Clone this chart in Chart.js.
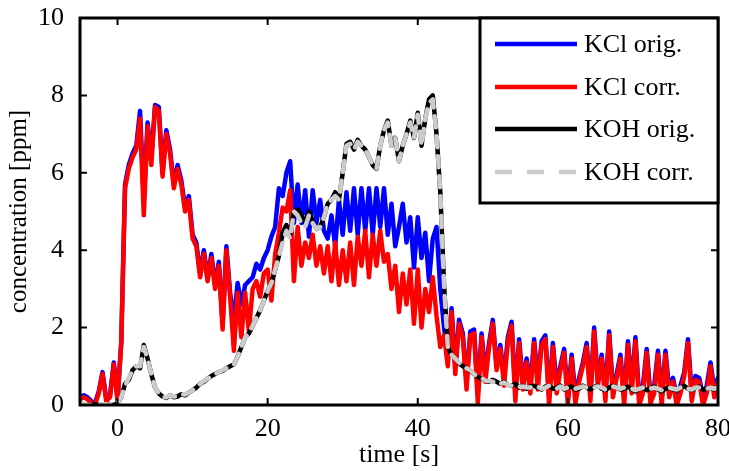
<!DOCTYPE html>
<html>
<head>
<meta charset="utf-8">
<script src="https://cdn.jsdelivr.net/npm/chart.js@4.4.0/dist/chart.umd.min.js"></script>
<style>
  html, body { margin: 0; padding: 0; background: #fff; overflow: hidden; }
  #wrap { width: 729px; height: 471px; }
</style>
</head>
<body>
<div id="wrap"><canvas id="myChart"></canvas></div>
<script>
// time [s]
const times = [
  -5,-4.5,-4,-3.5,-3,-2.5,-2,-1.5,-1,-0.5,
  0,0.5,1,1.5,2,2.5,3,3.5,4,4.5,
  5,5.5,6,6.5,7,7.5,8,8.5,9,9.5,
  10,10.5,11,11.5,12,12.5,13,13.5,14,14.5,
  15,15.5,16,16.5,17,17.5,18,18.5,19,19.5,
  20,20.5,21,21.5,22,22.5,23,23.5,24,24.5,
  25,25.5,26,26.5,27,27.5,28,28.5,29,29.5,
  30,30.5,31,31.5,32,32.5,33,33.5,34,34.5,
  35,35.5,36,36.5,37,37.5,38,38.5,39,39.5,
  40,40.5,41,41.5,42,42.5,43,43.5,44,44.5,
  45,45.5,46,46.5,47,47.5,48,48.5,49,49.5,
  50,50.5,51,51.5,52,52.5,53,53.5,54,54.5,
  55,55.5,56,56.5,57,57.5,58,58.5,59,59.5,
  60,60.5,61,61.5,62,62.5,63,63.5,64,64.5,
  65,65.5,66,66.5,67,67.5,68,68.5,69,69.5,
  70,70.5,71,71.5,72,72.5,73,73.5,74,74.5,
  75,75.5,76,76.5,77,77.5,78,78.5,79,79.5,
  80
];

// KCl orig.
const kclOrig = [
  0.2,0.25,0.2,0.1,0.05,0.35,0.85,0.15,0.25,1.1,
  0.15,1.65,5.7,6.2,6.5,6.7,7.6,5.3,7.3,6.4,
  7.75,7.7,6.0,7.1,6.6,5.7,6.2,5.8,5.1,5.4,
  4.4,4.2,3.4,4.0,3.3,3.9,3.1,3.7,2.1,4.1,
  2.9,2.2,3.15,2.6,3.1,3.2,3.3,3.65,3.5,3.8,
  4.0,4.35,4.6,5.6,5.4,6.0,6.3,4.7,5.7,4.7,
  5.55,4.35,5.55,4.7,5.3,4.5,4.3,4.9,4.1,5.3,
  4.4,5.5,4.5,5.6,4.4,5.6,4.5,5.6,4.4,5.6,
  4.6,5.6,4.4,5.2,4.1,4.6,5.2,4.2,4.85,3.55,
  4.85,3.8,4.45,3.2,4.3,4.6,3.0,2.0,1.2,2.5,
  1.0,2.2,1.85,0.6,1.9,1.95,0.3,1.85,0.8,1.6,
  2.2,1.0,1.55,0.7,1.75,2.15,0.3,1.7,0.6,1.2,
  0.5,1.7,0.6,1.65,1.8,0.2,1.6,0.5,1.0,1.45,
  0.2,1.3,0.25,0.7,1.1,1.6,0.3,2.0,0.6,1.3,
  0.3,1.9,0.4,0.8,1.3,0.2,1.65,0.5,1.75,0.2,
  0.5,1.45,0.25,0.5,1.4,0.2,1.4,0.4,0.7,0.2,
  0.5,0.85,1.7,0.3,0.75,0.7,0.2,0.5,1.1,0.4,
  0.7
];

// KCl corr.
const kclCorr = [
  0.15,0.2,0.15,0.05,0.0,0.3,0.8,0.1,0.2,1.05,
  0.1,1.6,5.6,6.1,6.4,6.6,7.4,4.9,7.2,6.2,
  7.7,7.6,5.9,7.0,6.5,5.6,6.1,5.7,5.0,5.3,
  4.3,4.1,3.3,3.9,3.2,3.8,3.0,3.6,1.95,4.0,
  2.8,1.4,2.9,1.75,2.9,1.9,3.0,3.2,2.8,3.4,
  3.5,2.7,3.9,4.45,5.1,5.0,5.55,3.2,4.6,3.6,
  4.2,3.8,4.4,3.6,4.1,3.4,4.1,3.2,4.2,3.1,
  4.0,3.2,4.2,3.1,4.35,3.6,4.5,3.3,4.4,3.6,
  4.5,3.7,3.9,3.0,3.6,2.4,3.4,2.6,3.5,2.1,
  3.5,2.0,3.0,2.4,3.3,2.3,1.5,1.8,1.0,2.4,
  0.8,2.1,1.75,0.4,1.8,1.85,0.05,1.75,0.6,1.5,
  2.1,0.9,1.45,0.5,1.65,2.05,0.1,1.6,0.4,1.1,
  0.3,1.6,0.4,1.55,1.7,0.0,1.5,0.3,0.9,1.35,
  0.0,1.2,0.05,0.6,1.0,1.5,0.1,1.9,0.5,1.2,
  0.1,1.8,0.2,0.7,1.2,0.0,1.55,0.3,1.65,0.0,
  0.3,1.35,0.05,0.3,1.3,0.0,1.3,0.2,0.6,0.0,
  0.3,0.75,1.6,0.1,0.65,0.6,0.0,0.3,1.0,0.2,
  0.6
];

// KOH orig.
const kohOrig = [
  0.05,0.0,0.0,0.0,0.02,0.0,0.0,0.02,0.0,0.0,
  0.05,0.2,0.55,0.65,0.9,1.0,0.95,1.55,1.2,0.8,
  0.45,0.3,0.22,0.18,0.25,0.2,0.22,0.28,0.25,0.32,
  0.38,0.45,0.55,0.6,0.68,0.75,0.8,0.85,0.88,0.95,
  1.0,1.05,1.25,1.5,1.75,1.85,2.05,2.25,2.45,2.7,
  2.95,3.15,3.5,3.85,4.45,4.65,4.4,5.0,5.05,4.9,
  4.7,5.0,4.75,4.55,4.6,4.85,5.2,5.3,5.5,5.3,
  6.0,6.75,6.8,6.6,6.85,6.7,6.6,6.4,6.2,6.1,
  6.7,7.1,7.35,6.7,6.9,6.3,6.7,7.0,7.35,6.9,
  7.55,6.7,7.4,7.9,8.0,7.0,5.5,3.1,1.5,1.3,
  1.2,1.08,1.0,0.95,0.88,0.8,0.72,0.68,0.63,0.6,
  0.65,0.6,0.55,0.6,0.52,0.5,0.55,0.45,0.5,0.42,
  0.48,0.5,0.45,0.4,0.48,0.5,0.42,0.45,0.5,0.4,
  0.45,0.48,0.4,0.42,0.5,0.45,0.4,0.47,0.5,0.42,
  0.38,0.45,0.5,0.45,0.4,0.42,0.48,0.4,0.35,0.42,
  0.45,0.38,0.42,0.48,0.4,0.35,0.42,0.45,0.4,0.38,
  0.45,0.5,0.42,0.38,0.45,0.48,0.4,0.42,0.45,0.4,
  0.48
];

// KOH corr.
const kohCorr = [
  0.05,0.02,0.0,0.0,0.02,0.0,0.02,0.02,0.0,0.02,
  0.05,0.2,0.5,0.7,0.9,1.0,1.0,1.5,1.2,0.8,
  0.45,0.3,0.2,0.2,0.25,0.22,0.22,0.28,0.27,0.32,
  0.38,0.45,0.55,0.62,0.68,0.75,0.8,0.85,0.9,0.95,
  1.0,1.05,1.25,1.5,1.75,1.85,2.05,2.25,2.45,2.7,
  2.95,3.15,3.5,3.85,4.2,4.5,4.3,5.0,4.9,4.7,
  4.6,4.9,4.7,4.55,4.6,4.85,5.2,5.3,5.4,5.3,
  6.0,6.7,6.75,6.6,6.8,6.7,6.6,6.4,6.2,6.1,
  6.7,7.1,7.3,6.7,6.9,6.3,6.7,7.0,7.3,6.9,
  7.5,6.7,7.4,7.8,7.9,7.0,5.5,3.1,1.5,1.3,
  1.2,1.1,1.0,0.95,0.9,0.8,0.72,0.7,0.63,0.62,
  0.6,0.62,0.55,0.58,0.52,0.5,0.52,0.47,0.48,0.45,
  0.45,0.5,0.47,0.42,0.45,0.5,0.45,0.42,0.48,0.42,
  0.45,0.45,0.42,0.45,0.48,0.45,0.42,0.45,0.48,0.45,
  0.4,0.45,0.48,0.45,0.42,0.45,0.45,0.42,0.38,0.42,
  0.45,0.4,0.42,0.45,0.42,0.38,0.42,0.45,0.42,0.4,
  0.45,0.48,0.42,0.4,0.45,0.45,0.42,0.42,0.45,0.42,
  0.45
];

const xTicks = [0, 20, 40, 60, 80];
const yTicks = [0, 2, 4, 6, 8, 10];

const serif = '"Liberation Serif", "Times New Roman", serif';
const font26 = { family: serif, size: 26 };

function pts(ys) {
  return times.map((t, i) => ({ x: t, y: ys[i] }));
}

// frame with inward ticks on all four sides, plus the boxed legend
const frame = {
  id: 'frame',
  afterDraw(chart) {
    const { ctx, chartArea: a, scales: { x, y } } = chart;
    ctx.save();
    ctx.strokeStyle = '#000';
    ctx.lineWidth = 2;
    ctx.beginPath();
    xTicks.forEach(v => {
      const px = x.getPixelForValue(v);
      ctx.moveTo(px, a.bottom); ctx.lineTo(px, a.bottom - 7);
      ctx.moveTo(px, a.top); ctx.lineTo(px, a.top + 7);
    });
    yTicks.forEach(v => {
      const py = y.getPixelForValue(v);
      ctx.moveTo(a.left, py); ctx.lineTo(a.left + 7, py);
      ctx.moveTo(a.right, py); ctx.lineTo(a.right - 7, py);
    });
    ctx.stroke();
    ctx.lineWidth = 3;
    ctx.strokeRect(a.left, a.top, a.right - a.left, a.bottom - a.top);

    // legend
    const lx = 480, ly = a.top, lw = a.right - lx, lh = 185;
    ctx.fillStyle = '#fff';
    ctx.fillRect(lx, ly, lw, lh);
    ctx.strokeRect(lx, ly, lw, lh);
    const rowY = [44, 87, 129, 172];
    ctx.font = '26px ' + serif;
    ctx.textBaseline = 'middle';
    ctx.textAlign = 'left';
    chart.data.datasets.forEach((ds, i) => {
      ctx.beginPath();
      ctx.strokeStyle = ds.borderColor;
      ctx.lineWidth = 4.5;
      ctx.setLineDash(ds.borderDash ? [17, 15] : []);
      ctx.moveTo(495, rowY[i]);
      ctx.lineTo(577, rowY[i]);
      ctx.stroke();
      ctx.setLineDash([]);
      ctx.fillStyle = '#000';
      ctx.fillText(ds.label, 584, rowY[i] + 1);
    });
    ctx.restore();
  }
};

const ctx = document.getElementById('myChart');

new Chart(ctx, {
  type: 'line',
  data: {
    datasets: [
      { label: 'KCl orig.', data: pts(kclOrig), borderColor: '#0000ff', order: 4 },
      { label: 'KCl corr.', data: pts(kclCorr), borderColor: '#ff0000', order: 3 },
      { label: 'KOH orig.', data: pts(kohOrig), borderColor: '#000000', order: 2 },
      { label: 'KOH corr.', data: pts(kohCorr), borderColor: '#cccccc', borderDash: [11, 9], order: 1 }
    ]
  },
  options: {
    responsive: true,
    maintainAspectRatio: false,
    animation: false,
    events: [],
    elements: {
      point: { radius: 0 },
      line: { borderWidth: 4.5, tension: 0, fill: false, borderJoinStyle: 'round', borderCapStyle: 'round' }
    },
    layout: { padding: { top: 18, right: 11, left: 0, bottom: 0 } },
    plugins: { legend: { display: false }, tooltip: { enabled: false } },
    scales: {
      x: {
        type: 'linear',
        min: -5,
        max: 80,
        grid: { display: false },
        border: { display: false },
        afterBuildTicks: s => { s.ticks = xTicks.map(v => ({ value: v })); },
        afterFit: s => { s.height = 66; s.paddingLeft = 0; s.paddingRight = 0; },
        ticks: { font: font26, color: '#000', padding: 1, maxRotation: 0, autoSkip: false },
        title: { display: true, text: 'time [s]', font: font26, color: '#000', padding: { top: 0, bottom: 0 } }
      },
      y: {
        min: 0,
        max: 10,
        grid: { display: false },
        border: { display: false },
        afterBuildTicks: s => { s.ticks = yTicks.map(v => ({ value: v })); },
        afterFit: s => { s.width = 80; s.paddingTop = 0; s.paddingBottom = 0; },
        ticks: { font: font26, color: '#000', padding: 8 },
        title: { display: true, text: 'concentration [ppm]', font: { family: serif, size: 25 }, color: '#000', padding: { top: 4, bottom: 0 } }
      }
    }
  },
  plugins: [frame]
});
</script>
</body>
</html>
